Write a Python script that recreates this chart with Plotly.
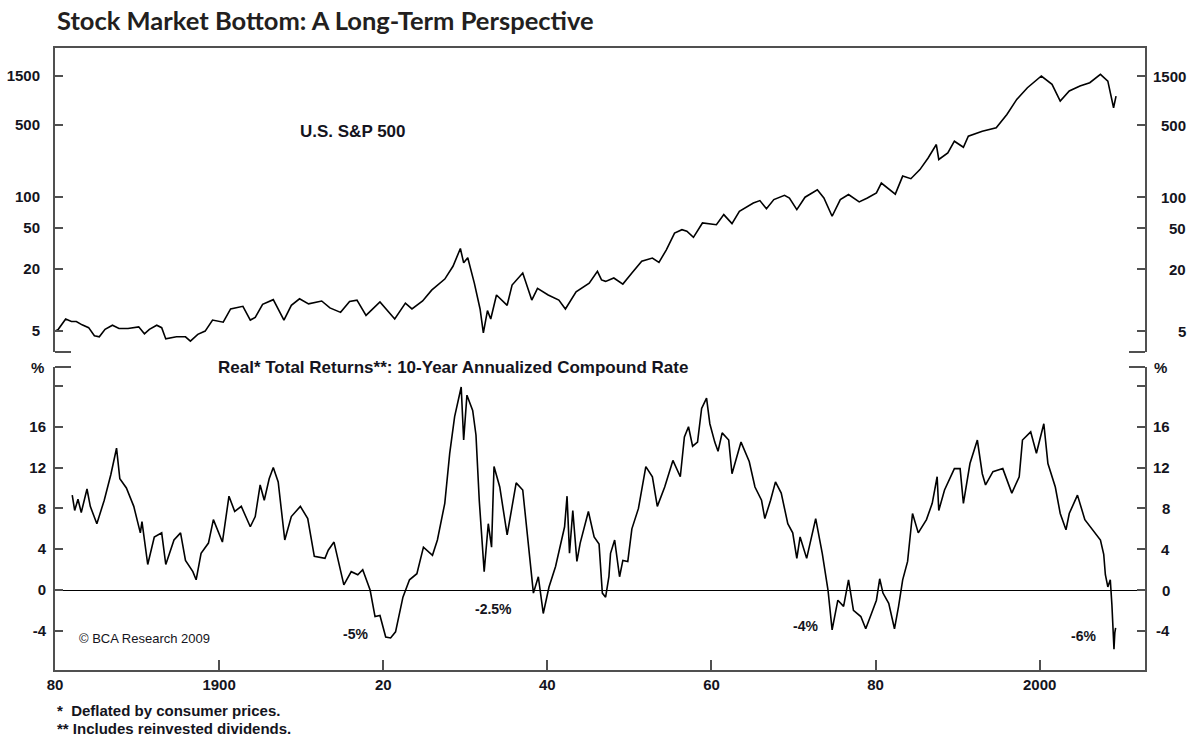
import numpy as np
import plotly.graph_objects as go

# ---------------- data ----------------
sp_years = [1880.0, 1880.4, 1881.3, 1882.0, 1882.6, 1883.3, 1884.1, 1884.8, 1885.4, 1886.1,
            1887.0, 1887.8, 1888.9, 1890.2, 1890.9, 1891.5, 1892.4, 1893.0, 1893.5, 1894.8,
            1895.9, 1896.5, 1897.4, 1898.3, 1899.2, 1900.5, 1901.4, 1902.9, 1903.8, 1904.4,
            1905.3, 1906.6, 1907.9, 1908.8, 1909.8, 1910.9, 1912.5, 1913.5, 1914.8, 1915.9,
            1916.8, 1917.9, 1919.6, 1921.4, 1922.7, 1923.5, 1924.8, 1925.9, 1927.5, 1928.5,
            1929.4, 1929.8, 1930.3, 1931.1, 1931.8, 1932.2, 1932.7, 1933.1, 1933.8, 1935.1,
            1935.7, 1937.0, 1938.1, 1938.8, 1940.1, 1941.4, 1942.2, 1943.5, 1945.1, 1946.1,
            1946.6, 1947.1, 1948.1, 1949.2, 1950.3, 1951.5, 1952.8, 1953.6, 1954.5, 1955.5,
            1956.4, 1957.0, 1957.8, 1958.9, 1960.6, 1961.5, 1962.5, 1963.4, 1965.1, 1965.9,
            1966.7, 1967.6, 1968.9, 1969.5, 1970.4, 1971.4, 1972.9, 1973.7, 1974.7, 1975.7,
            1976.7, 1978.0, 1979.0, 1980.1, 1980.7, 1982.4, 1983.3, 1984.3, 1985.4, 1986.4,
            1987.4, 1987.7, 1988.8, 1989.6, 1990.7, 1991.3, 1993.0, 1994.7, 1996.0, 1997.2,
            1998.5, 2000.2, 2001.5, 2002.5, 2003.6, 2004.9, 2006.1, 2007.4, 2008.3, 2009.0,
            2009.3]
sp_values = [5.0, 5.2, 6.55, 6.2, 6.2, 5.75, 5.4, 4.5, 4.4, 5.2,
             5.7, 5.3, 5.3, 5.5, 4.7, 5.2, 5.7, 5.4, 4.2, 4.4,
             4.4, 4.0, 4.65, 5.0, 6.4, 6.1, 8.2, 8.7, 6.4, 6.8,
             9.1, 10.1, 6.4, 8.9, 10.3, 9.2, 9.8, 8.4, 7.6, 9.7,
             10.0, 7.1, 9.6, 6.55, 9.35, 8.2, 9.8, 12.5, 16.0, 21.3,
             31.7, 23.0, 25.8, 14.6, 8.2, 4.8, 7.9, 6.55, 11.2, 8.9,
             14.0, 18.3, 10.0, 13.0, 11.2, 10.0, 8.2, 12.0, 14.6, 19.0,
             15.7, 15.2, 16.4, 14.3, 18.3, 23.8, 25.6, 23.2, 30.8, 44.8,
             48.3, 46.6, 40.7, 56.1, 54.0, 67.6, 55.3, 72.9, 87.8, 92.5,
             77.2, 94.6, 104.0, 98.0, 75.7, 99.8, 118.0, 98.0, 65.2, 94.6,
             106.0, 89.8, 98.0, 110.0, 137.0, 107.0, 160.0, 151.0, 185.0, 240.0,
             324.0, 232.0, 269.0, 349.0, 305.0, 391.0, 437.0, 471.0, 635.0, 889.0,
             1154.0, 1500.0, 1245.0, 857.0, 1072.0, 1199.0, 1291.0, 1556.0, 1340.0, 738.0,
             958.0]

ret_years = [1882.1, 1882.4, 1882.8, 1883.2, 1883.9, 1884.3, 1885.1, 1886.0, 1886.8, 1887.5,
             1887.9, 1888.7, 1889.6, 1890.4, 1890.6, 1891.3, 1892.1, 1893.0, 1893.5, 1894.5,
             1895.3, 1895.9, 1896.8, 1897.2, 1897.8, 1898.7, 1899.3, 1900.4, 1901.2, 1901.9,
             1902.7, 1903.8, 1904.4, 1905.0, 1905.5, 1906.1, 1906.6, 1907.2, 1908.0, 1908.8,
             1909.9, 1910.8, 1911.6, 1912.9, 1913.3, 1914.0, 1915.2, 1916.1, 1916.9, 1917.5,
             1918.4, 1919.0, 1919.6, 1920.3, 1920.9, 1921.5, 1922.4, 1923.2, 1924.1, 1924.9,
             1926.0, 1926.6, 1927.5, 1928.1, 1928.7, 1929.5, 1929.8, 1930.2, 1930.9, 1931.3,
             1931.7, 1932.3, 1932.8, 1933.2, 1933.5, 1934.2, 1935.1, 1936.2, 1937.0, 1937.6,
             1938.3, 1938.9, 1939.5, 1940.2, 1941.0, 1942.1, 1942.4, 1942.7, 1943.1, 1943.6,
             1944.0, 1945.0, 1945.7, 1946.3, 1946.7, 1947.1, 1947.5, 1947.7, 1948.2, 1948.8,
             1949.2, 1949.8, 1950.3, 1951.1, 1952.0, 1952.8, 1953.4, 1954.3, 1955.3, 1956.2,
             1956.7, 1957.2, 1957.7, 1958.3, 1958.8, 1959.4, 1959.8, 1960.4, 1960.8, 1961.3,
             1962.1, 1962.5, 1963.6, 1964.6, 1965.3, 1966.1, 1966.5, 1967.2, 1967.8, 1968.5,
             1969.3, 1969.9, 1970.4, 1970.8, 1971.6, 1972.7, 1973.5, 1974.2, 1974.7, 1975.4,
             1976.1, 1976.7, 1977.3, 1978.2, 1978.8, 1979.5, 1980.1, 1980.5, 1980.9, 1981.6,
             1982.3, 1982.8, 1983.3, 1983.9, 1984.5, 1985.2, 1986.2, 1986.9, 1987.5, 1987.7,
             1988.4, 1989.6, 1990.3, 1990.7, 1991.5, 1992.4, 1993.0, 1993.4, 1994.3, 1995.5,
             1996.6, 1997.5, 1997.9, 1998.9, 1999.6, 2000.0, 2000.5, 2001.0, 2001.9, 2002.5,
             2003.2, 2003.6, 2004.6, 2005.5, 2006.6, 2007.4, 2007.8, 2008.0, 2008.3, 2008.6,
             2008.8, 2009.05, 2009.15, 2009.25]
ret_values = [9.3, 7.8, 8.9, 7.6, 9.9, 8.2, 6.5, 8.8, 11.3, 13.9,
              10.9, 10.0, 8.2, 5.6, 6.7, 2.5, 5.2, 5.6, 2.5, 4.9,
              5.6, 2.9, 1.8, 1.0, 3.6, 4.6, 6.9, 4.7, 9.2, 7.7,
              8.2, 6.2, 7.2, 10.3, 8.8, 10.9, 12.0, 10.6, 4.9, 7.2,
              8.2, 7.0, 3.3, 3.1, 3.9, 4.7, 0.5, 1.8, 1.5, 2.0,
              0.0, -2.6, -2.5, -4.6, -4.7, -4.1, -0.7, 1.0, 1.6, 4.2,
              3.4, 4.9, 8.5, 13.4, 17.0, 19.9, 14.7, 19.1, 17.6, 15.2,
              8.8, 1.8, 6.5, 4.2, 12.1, 10.1, 5.4, 10.5, 9.8, 4.9,
              -0.3, 1.3, -2.3, 0.3, 2.3, 6.2, 9.2, 3.6, 7.8, 2.8,
              4.6, 7.7, 5.2, 4.5, -0.3, -0.7, 1.3, 3.6, 4.9, 1.3,
              2.9, 2.8, 6.0, 8.0, 12.1, 11.1, 8.2, 10.1, 12.7, 11.1,
              15.0, 16.0, 14.1, 14.5, 17.8, 18.8, 16.3, 14.5, 13.6, 15.4,
              14.7, 11.4, 14.5, 12.6, 10.1, 8.8, 7.0, 8.8, 10.6, 9.5,
              6.5, 5.6, 3.1, 5.2, 3.1, 7.0, 3.6, 0.0, -3.9, -1.0,
              -1.6, 1.0, -2.0, -2.6, -3.8, -2.3, -1.0, 1.1, -0.3, -1.3,
              -3.8, -1.6, 1.0, 2.8, 7.5, 5.6, 6.9, 8.5, 11.1, 7.8,
              9.8, 11.9, 11.9, 8.5, 12.4, 14.7, 11.4, 10.3, 11.6, 11.9,
              9.5, 11.1, 14.7, 15.5, 13.4, 14.7, 16.3, 12.4, 10.1, 7.5,
              5.9, 7.5, 9.3, 6.9, 5.7, 4.9, 3.5, 1.5, 0.3, 1.0,
              -1.5, -5.8, -4.2, -3.7]

x_tickvals = [1880, 1900, 1920, 1940, 1960, 1980, 2000]
x_ticktext = ["80", "1900", "20", "40", "60", "80", "2000"]
sp_ticks = [5, 20, 50, 100, 500, 1500]
ret_ticks = [-4, 0, 4, 8, 12, 16]
ret_minor_tick = [20]

trough_labels = ["-5%", "-2.5%", "-4%", "-6%"]
trough_years = [1916.6, 1933.4, 1971.5, 2005.3]
trough_vals = [-4.3, -1.85, -3.5, -4.5]

# ---------------- layout constants ----------------
W, H = 1194, 736
ML, MR, MT, MB = 55, 49, 48, 66
PW, PH = W - ML - MR, H - MT - MB
top_dom = [(H - MB - 352) / PH, 1.0]
bot_dom = [0.0, (H - MB - 367) / PH]
XR = [1880.0, 2012.83]
SP_R = [0.496, 3.448]
RET_R = [-7.84, 21.86]

AX = "#505050"
TXT = "#141420"
FONT = "Liberation Sans"

fig = go.Figure()
fig.add_trace(go.Scatter(x=sp_years, y=sp_values, xaxis="x2", yaxis="y",
                         mode="lines", line=dict(color="black", width=1.6),
                         showlegend=False, hoverinfo="skip"))
fig.add_trace(go.Scatter(x=ret_years, y=ret_values, xaxis="x", yaxis="y2",
                         mode="lines", line=dict(color="black", width=1.6),
                         showlegend=False, hoverinfo="skip"))
# invisible helpers so the right-hand axes are drawn
fig.add_trace(go.Scatter(x=sp_years[:1], y=sp_values[:1], xaxis="x2", yaxis="y3",
                         mode="markers", marker=dict(opacity=0), showlegend=False, hoverinfo="skip"))
fig.add_trace(go.Scatter(x=ret_years[:1], y=ret_values[:1], xaxis="x", yaxis="y4",
                         mode="markers", marker=dict(opacity=0), showlegend=False, hoverinfo="skip"))

tickfont = dict(family=FONT, size=15, color=TXT, weight="bold")
common_y = dict(ticks="inside", ticklen=8, tickwidth=1.5, tickcolor=AX,
                showline=True, linecolor=AX, linewidth=2, showgrid=False,
                tickfont=tickfont, automargin=False)

fig.update_layout(
    width=W, height=H,
    margin=dict(l=ML, r=MR, t=MT, b=MB, autoexpand=False),
    paper_bgcolor="white", plot_bgcolor="white",
    xaxis=dict(domain=[0, 1], range=XR, anchor="y2", tickvals=x_tickvals, ticktext=x_ticktext,
               ticks="inside", ticklen=10, tickwidth=1.5, tickcolor=AX, automargin=False,
               showline=True, linecolor=AX, linewidth=2, showgrid=False, zeroline=False,
               tickfont=dict(family=FONT, size=15, color=TXT, weight="bold")),
    xaxis2=dict(domain=[0, 1], range=XR, anchor="y", matches="x", side="top",
                showline=True, linecolor=AX, linewidth=2, ticks="", showticklabels=False,
                showgrid=False, zeroline=False, automargin=False),
    yaxis=dict(domain=top_dom, type="log", range=SP_R, anchor="x2",
               tickvals=sp_ticks, ticktext=[str(v) for v in sp_ticks],
               ticklabelstandoff=10, **common_y),
    yaxis3=dict(type="log", range=SP_R, anchor="x2", overlaying="y", side="right",
                tickvals=sp_ticks, showticklabels=False, **common_y),
    yaxis2=dict(domain=bot_dom, range=RET_R, anchor="x",
                tickvals=ret_ticks + ret_minor_tick,
                ticktext=[str(v) for v in ret_ticks] + [""],
                zeroline=True, zerolinecolor="black", zerolinewidth=1,
                ticklabelstandoff=4, **common_y),
    yaxis4=dict(range=RET_R, anchor="x", overlaying="y2", side="right",
                tickvals=ret_ticks + ret_minor_tick, showticklabels=False,
                zeroline=False, **common_y),
)

# long end ticks at the panel gap
L = 16 / PW
for xr0, xr1 in [(0, L), (1 - L, 1)]:
    fig.add_shape(type="line", xref="x domain", yref="y domain", x0=xr0, x1=xr1, y0=0, y1=0,
                  line=dict(color=AX, width=2))
    fig.add_shape(type="line", xref="x domain", yref="y2 domain", x0=xr0, x1=xr1, y0=1, y1=1,
                  line=dict(color=AX, width=2))

ann = []
# right-hand tick labels (right-aligned)
for v in sp_ticks:
    ann.append(dict(x=1, xref="paper", y=np.log10(v), yref="y", text=str(v), showarrow=False,
                    xanchor="right", yanchor="middle", xshift=43, font=tickfont))
for v in ret_ticks:
    ann.append(dict(x=1, xref="paper", y=v, yref="y2", text=str(v), showarrow=False,
                    xanchor="right", yanchor="middle", xshift=27, font=tickfont))
# % unit labels
ann.append(dict(x=0, xref="paper", y=1, yref="y2 domain", text="%", showarrow=False,
                xanchor="right", yanchor="middle", xshift=-9, font=tickfont))
ann.append(dict(x=1, xref="paper", y=1, yref="y2 domain", text="%", showarrow=False,
                xanchor="left", yanchor="middle", xshift=7, font=tickfont))
# title
ann.append(dict(x=0, xref="paper", y=1 + (MT - 20) / PH, yref="paper",
                text="Stock Market Bottom: A Long-Term Perspective", showarrow=False,
                xanchor="left", yanchor="middle",
                font=dict(family="Lato", size=25.5, color="#231f20", weight="bold")))
# panel labels
ann.append(dict(x=(353 - ML) / PW, xref="paper", y=(H - MB - 131) / PH, yref="paper",
                text="U.S. S&amp;P 500", showarrow=False, xanchor="center", yanchor="middle",
                font=dict(family=FONT, size=17, color=TXT, weight="bold")))
ann.append(dict(x=(453 - ML) / PW, xref="paper", y=1, yref="y2 domain",
                text="Real* Total Returns**: 10-Year Annualized Compound Rate", showarrow=False,
                xanchor="center", yanchor="middle",
                font=dict(family=FONT, size=17, color=TXT, weight="bold")))
for t, xv, yv in zip(trough_labels, trough_years, trough_vals):
    ann.append(dict(x=xv, xref="x", y=yv, yref="y2", text=t, showarrow=False,
                    xanchor="center", yanchor="middle",
                    font=dict(family=FONT, size=14, color=TXT, weight="bold")))
ann.append(dict(x=(77 - ML) / PW, xref="paper", y=(H - MB - 638) / PH, yref="paper",
                text="© BCA Research 2009", showarrow=False, xanchor="left", yanchor="middle",
                font=dict(family=FONT, size=13, color=TXT)))
# footnotes
ann.append(dict(x=0, xref="paper", y=(H - MB - 710) / PH, yref="paper",
                text="*\u00a0\u00a0Deflated by consumer prices.", showarrow=False,
                xanchor="left", yanchor="middle",
                font=dict(family=FONT, size=15, color=TXT, weight="bold")))
ann.append(dict(x=0, xref="paper", y=(H - MB - 728) / PH, yref="paper",
                text="**\u00a0Includes reinvested dividends.", showarrow=False,
                xanchor="left", yanchor="middle",
                font=dict(family=FONT, size=15, color=TXT, weight="bold")))
fig.update_layout(annotations=ann)

fig.write_html("out.html")
